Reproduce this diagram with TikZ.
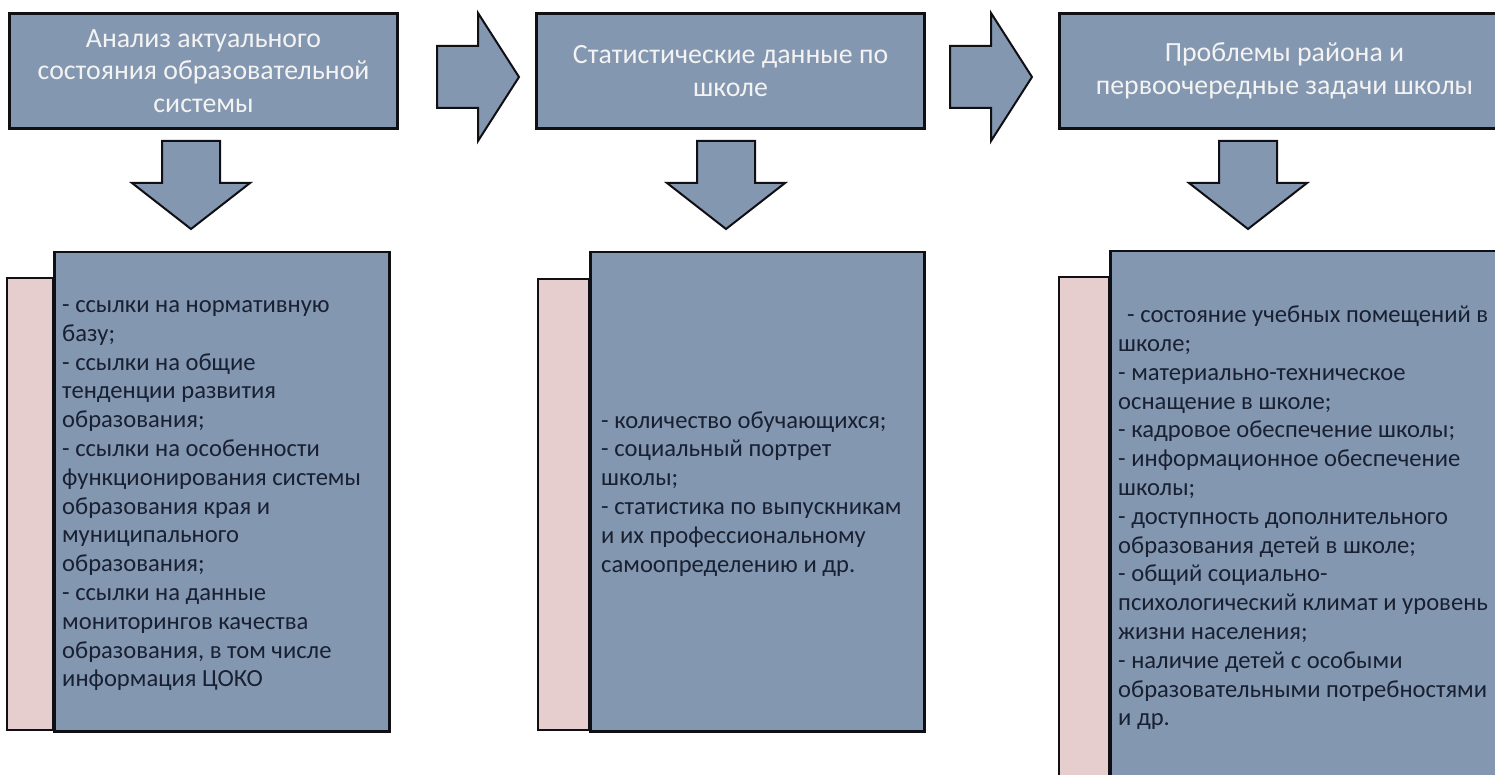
\documentclass[tikz,border=0pt]{standalone}
\usepackage{fontspec}
\setmainfont{Carlito}
\definecolor{boxblue}{RGB}{132,151,176}
\definecolor{boxpink}{RGB}{230,206,206}
\definecolor{txtdark}{RGB}{24,32,50}
\definecolor{txtlight}{RGB}{243,243,243}
\definecolor{edge}{RGB}{15,15,20}
\begin{document}
\begin{tikzpicture}[x=1pt,y=-1pt,
  topbox/.style={draw=edge, line width=3pt, fill=boxblue, text=txtlight,
    align=center, font=\fontsize{27.8}{32.5}\selectfont, inner sep=0pt},
  panel/.style={draw=edge, line width=2.5pt, fill=boxblue},
  tab/.style={draw=edge, line width=2.5pt, fill=boxpink},
  paneltext/.style={text=txtdark, align=left, font=\fontsize{24.6}{28.8}\selectfont, inner sep=0pt},
  blockarrow/.style={draw=edge, line width=2pt, fill=boxblue, line join=miter}]
\useasboundingbox (0,0) rectangle (1495,775);
\clip (0,0) rectangle (1495,775);

% top boxes
\node[topbox, minimum width=388pt, minimum height=115pt, anchor=north west] (t1) at (8,12)
  {Анализ актуального\\состояния образовательной\\системы};
\node[topbox, minimum width=388pt, minimum height=115pt, anchor=north west] (t2) at (535,12)
  {Статистические данные по\\школе};
\node[topbox, minimum width=450pt, minimum height=115pt, anchor=north west] (t3) at (1058,12)
  {Проблемы района и\\первоочередные задачи школы};

% right block arrows
\draw[blockarrow] (437,46) -- (478,46) -- (478,13) -- (519,77) -- (478,141) -- (478,108) -- (437,108) -- cycle;
\draw[blockarrow] (950,46) -- (991,46) -- (991,13) -- (1032,77) -- (991,141) -- (991,108) -- (950,108) -- cycle;

% down block arrows
\foreach \c in {191,726,1248}{
  \draw[blockarrow] (\c-29,141) -- (\c+29,141) -- (\c+29,183) -- (\c+59,183) -- (\c,229)
    -- (\c-59,183) -- (\c-29,183) -- cycle;
}

% lower panels
\draw[tab] (7,278) rectangle (53,730);
\node[panel, minimum width=335pt, minimum height=479pt, anchor=north west] (b1) at (53,251) {};
\node[paneltext, anchor=west] (l1) at ([xshift=9pt,yshift=-4pt]b1.west)
  {- ссылки на нормативную\\базу;\\- ссылки на общие\\тенденции развития\\образования;\\- ссылки на особенности\\функционирования системы\\образования края и\\муниципального\\образования;\\- ссылки на данные\\мониторингов качества\\образования, в том числе\\информация ЦОКО};

\draw[tab] (538,279) rectangle (589,730);
\node[panel, minimum width=334pt, minimum height=479pt, anchor=north west] (b2) at (589,251) {};
\node[paneltext, anchor=west] (l2) at ([xshift=12pt,yshift=-2pt]b2.west)
  {- количество обучающихся;\\- социальный портрет\\школы;\\- статистика по выпускникам\\и их профессиональному\\самоопределению и др.};

\draw[tab] (1059,277) rectangle (1109,800);
\node[panel, minimum width=400pt, minimum height=560pt, anchor=north west] (b3) at (1109,250) {};
\node[paneltext, anchor=west] (l3) at (1118,518)
  {\hspace{9pt}- состояние учебных помещений в\\школе;\\- материально-техническое\\оснащение в школе;\\- кадровое обеспечение школы;\\- информационное обеспечение\\школы;\\- доступность дополнительного\\образования детей в школе;\\- общий социально-\\психологический климат и уровень\\жизни населения;\\- наличие детей с особыми\\образовательными потребностями\\и др.};
\end{tikzpicture}
\end{document}
